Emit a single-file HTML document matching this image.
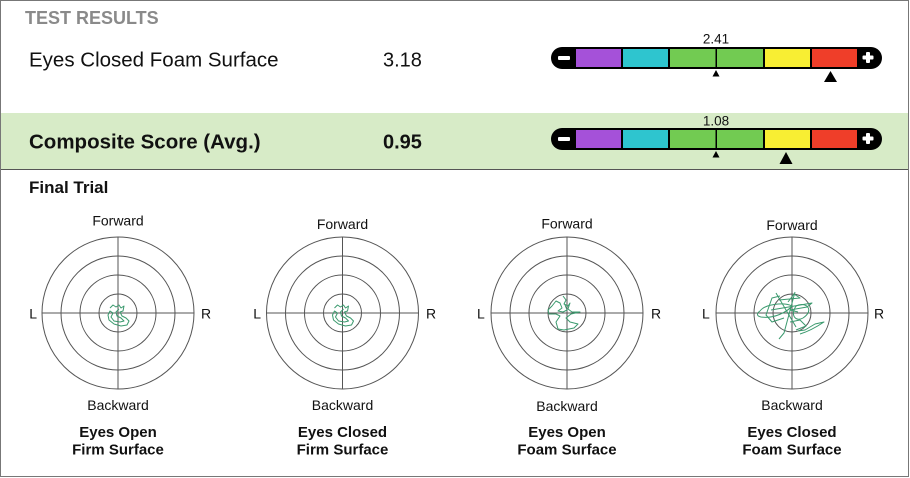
<!DOCTYPE html>
<html>
<head>
<meta charset="utf-8">
<style>
html,body{margin:0;padding:0;background:#fff;}
body{width:910px;height:478px;overflow:hidden;}
svg{display:block;font-family:"Liberation Sans",Arial,sans-serif;}
</style>
</head>
<body>
<svg width="910" height="478" viewBox="0 0 910 478" xmlns="http://www.w3.org/2000/svg">
  <rect x="0" y="0" width="910" height="478" fill="#fff"/>
  <!-- green band -->
  <rect x="1" y="113" width="907" height="56" fill="#d7ebc7"/>
  <line x1="1" y1="169.5" x2="908" y2="169.5" stroke="#555" stroke-width="1"/>
  <!-- outer border -->
  <rect x="0.5" y="0.5" width="908" height="476" fill="none" stroke="#777" stroke-width="1"/>

  <!-- header texts -->
  <text x="25" y="24" font-size="18" font-weight="bold" fill="#8a8a8a">TEST RESULTS</text>
  <text x="29" y="66.5" font-size="20.5" fill="#111">Eyes Closed Foam Surface</text>
  <text x="383" y="66.5" font-size="20" fill="#111">3.18</text>
  <text x="29" y="148.5" font-size="20.5" font-weight="bold" fill="#111">Composite Score (Avg.)</text>
  <text x="383" y="148.5" font-size="20" font-weight="bold" fill="#111">0.95</text>
  <text x="29" y="193" font-size="17" font-weight="bold" fill="#111">Final Trial</text>

  <!-- Bar 1 -->
  <g>
    <text x="716" y="43.3" font-size="13.5" fill="#111" text-anchor="middle">2.41</text>
    <rect x="551" y="47" width="331" height="22" rx="11" fill="#000"/>
    <rect x="576" y="49" width="45" height="18" fill="#a551d9"/>
    <rect x="623" y="49" width="45" height="18" fill="#2ec5cf"/>
    <rect x="670" y="49" width="93" height="18" fill="#72cb52"/>
    <rect x="715.5" y="49" width="1.5" height="18" fill="#000"/>
    <rect x="765" y="49" width="45" height="18" fill="#f8ee33"/>
    <rect x="812" y="49" width="45" height="18" fill="#ef3e29"/>
    <rect x="558" y="56" width="12" height="4" rx="1" fill="#fff"/>
    <rect x="862.5" y="55.5" width="11" height="4" rx="1" fill="#fff"/>
    <rect x="866" y="52" width="4" height="11" rx="1" fill="#fff"/>
    <polygon points="716,70 712.5,76.5 719.5,76.5" fill="#000"/>
    <polygon points="830.5,71 824,82 837,82" fill="#000"/>
  </g>
  <!-- Bar 2 -->
  <g>
    <text x="716" y="125.5" font-size="13.5" fill="#111" text-anchor="middle">1.08</text>
    <rect x="551" y="128" width="331" height="22" rx="11" fill="#000"/>
    <rect x="576" y="130" width="45" height="18" fill="#a551d9"/>
    <rect x="623" y="130" width="45" height="18" fill="#2ec5cf"/>
    <rect x="670" y="130" width="93" height="18" fill="#72cb52"/>
    <rect x="715.5" y="130" width="1.5" height="18" fill="#000"/>
    <rect x="765" y="130" width="45" height="18" fill="#f8ee33"/>
    <rect x="812" y="130" width="45" height="18" fill="#ef3e29"/>
    <rect x="558" y="137" width="12" height="4" rx="1" fill="#fff"/>
    <rect x="862.5" y="136.5" width="11" height="4" rx="1" fill="#fff"/>
    <rect x="866" y="133" width="4" height="11" rx="1" fill="#fff"/>
    <polygon points="716,151 712.5,157.5 719.5,157.5" fill="#000"/>
    <polygon points="786,152 779.5,164 792.5,164" fill="#000"/>
  </g>

  <!-- Targets -->
  <g fill="none" stroke="#555" stroke-width="1">
    <circle cx="118" cy="313" r="76"/><circle cx="118" cy="313" r="57"/><circle cx="118" cy="313" r="38"/><circle cx="118" cy="313" r="19"/>
    <line x1="42" y1="313" x2="194" y2="313"/><line x1="118" y1="237" x2="118" y2="389"/>

    <circle cx="342.5" cy="313" r="76"/><circle cx="342.5" cy="313" r="57"/><circle cx="342.5" cy="313" r="38"/><circle cx="342.5" cy="313" r="19"/>
    <line x1="266.5" y1="313" x2="418.5" y2="313"/><line x1="342.5" y1="237" x2="342.5" y2="389"/>

    <circle cx="567" cy="313" r="76"/><circle cx="567" cy="313" r="57"/><circle cx="567" cy="313" r="38"/><circle cx="567" cy="313" r="19"/>
    <line x1="491" y1="313" x2="643" y2="313"/><line x1="567" y1="237" x2="567" y2="389"/>

    <circle cx="792" cy="313" r="76"/><circle cx="792" cy="313" r="57"/><circle cx="792" cy="313" r="38"/><circle cx="792" cy="313" r="19"/>
    <line x1="716" y1="313" x2="868" y2="313"/><line x1="792" y1="237" x2="792" y2="389"/>
  </g>

  <!-- Traces -->
  <g fill="none" stroke="#3b9a6e" stroke-width="1" stroke-linejoin="round">
    <path d="M110,308 L113,305 L116,307 L119,305 L121,308 L124,306 L123,311 L120,312 L122,316 L126,318 L129,321 L127,325 L121,326 L114,324 L109,320 L108,315 L110,311 L113,313 L111,317 L114,321 L120,322 L124,321 L121,318 L117,316 L116,312 L119,309"/>
    <path d="M334.5,308 L337.5,305 L340.5,307 L343.5,305 L345.5,308 L348.5,306 L347.5,311 L344.5,312 L346.5,316 L350.5,318 L353.5,321 L351.5,325 L345.5,326 L338.5,324 L333.5,320 L332.5,315 L334.5,311 L337.5,313 L335.5,317 L338.5,321 L344.5,322 L348.5,321 L345.5,318 L341.5,316 L340.5,312 L343.5,309"/>
    <path d="M563,296 L566,300 L564,304 L568,306 L570,303 L568,309 L572,312 L580,312 L571,314 L566,318 L570,322 L578,324 L574,328 L564,330 L558,329 L556,322 L560,316 L556,314 L549,314 L548,310 L552,306 L556,301 L560,303 L562,308 L558,311 L563,312 L567,310 L565,305"/>
    <path d="M760,311 C765,304 784,302 792,306 C787,312 774,319 761,317 C756,316 757,313 760,311"/>
    <path d="M771,310 L812,303 L807,307 L790,310 L798,312"/>
    <path d="M776,293 L796,327"/>
    <path d="M795,292 L784,333 L779,339"/>
    <path d="M779,300 L800,298 L794,294 L788,302"/>
    <path d="M800,334 C810,331 818,326 824,322 L815,324 L805,330 L798,331"/>
    <path d="M796,306 C806,301 815,310 803,318 C796,322 790,316 796,306"/>
    <path d="M784,318 L772,322 L766,315 L772,298 L780,296"/>
    <path d="M790,322 L800,320 L806,326 L796,330"/>
  </g>

  <!-- Labels -->
  <g font-size="14" fill="#111">
    <text x="118" y="225.7" text-anchor="middle">Forward</text>
    <text x="118" y="410" text-anchor="middle">Backward</text>
    <text x="29.3" y="318.3">L</text>
    <text x="201" y="318.3">R</text>

    <text x="342.5" y="229" text-anchor="middle">Forward</text>
    <text x="342.5" y="410" text-anchor="middle">Backward</text>
    <text x="253.3" y="318.3">L</text>
    <text x="426" y="318.3">R</text>

    <text x="567" y="228.3" text-anchor="middle">Forward</text>
    <text x="567" y="411" text-anchor="middle">Backward</text>
    <text x="477" y="318.3">L</text>
    <text x="651" y="318.3">R</text>

    <text x="792" y="230" text-anchor="middle">Forward</text>
    <text x="792" y="410" text-anchor="middle">Backward</text>
    <text x="702" y="318.3">L</text>
    <text x="874" y="318.3">R</text>
  </g>
  <g font-size="15" font-weight="bold" fill="#111" text-anchor="middle">
    <text x="118" y="437">Eyes Open</text>
    <text x="118" y="454.5">Firm Surface</text>
    <text x="342.5" y="437">Eyes Closed</text>
    <text x="342.5" y="454.5">Firm Surface</text>
    <text x="567" y="437">Eyes Open</text>
    <text x="567" y="454.5">Foam Surface</text>
    <text x="792" y="437">Eyes Closed</text>
    <text x="792" y="454.5">Foam Surface</text>
  </g>
</svg>
</body>
</html>
